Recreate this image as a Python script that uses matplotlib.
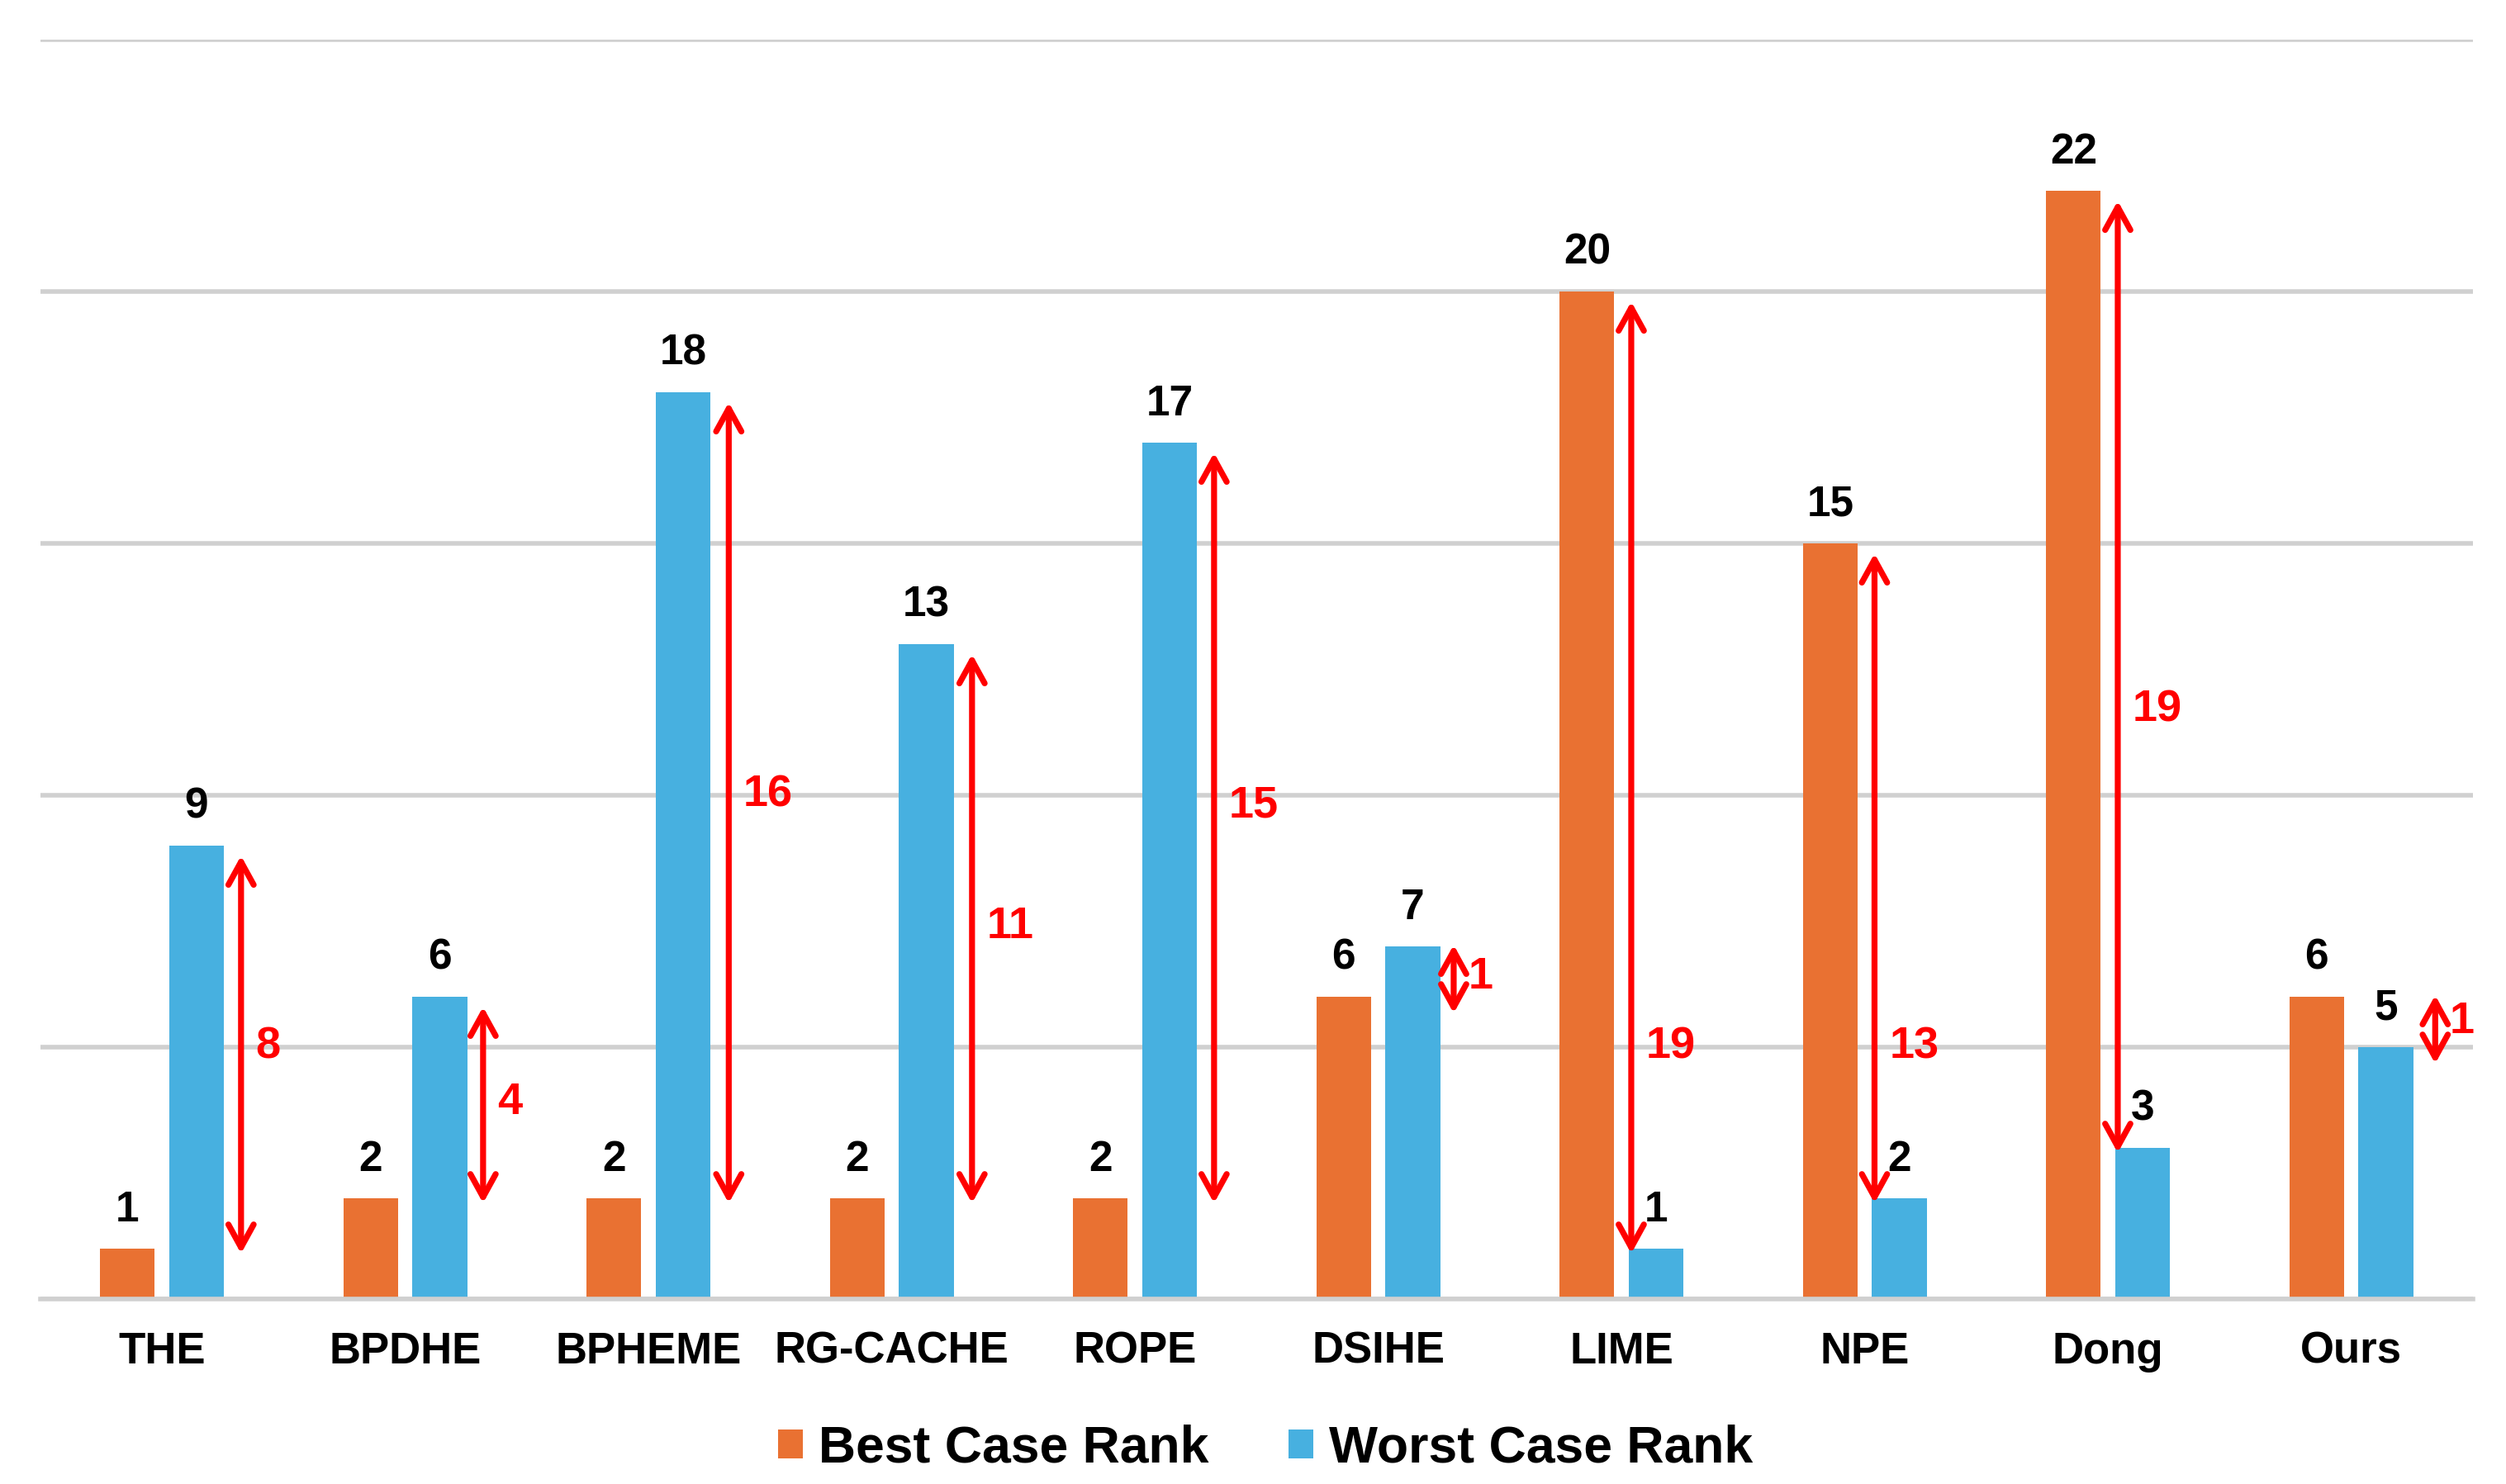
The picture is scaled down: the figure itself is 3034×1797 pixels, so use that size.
import matplotlib.pyplot as plt
import numpy as np

plt.rcParams['font.family'] = ['Liberation Sans', 'DejaVu Sans']
plt.rcParams['font.weight'] = 'bold'

# data
methods = ["THE", "BPDHE", "BPHEME", "RG-CACHE", "ROPE",
           "DSIHE", "LIME", "NPE", "Dong", "Ours"]
best_rank = [1, 2, 2, 2, 2, 6, 20, 15, 22, 6]
worst_rank = [9, 6, 18, 13, 17, 7, 1, 2, 3, 5]

# layout of the red gap arrows (x offset from category, label height)
arrow_dx = [0.325, 0.32, 0.33, 0.33, 0.325, 0.31, 0.04, 0.04, 0.04, 0.345]
gap_label_y = [5, 3.9, 10, 7.4, 9.8, 6.4, 5, 5, 11.7, 5.5]

orange = "#E97132"
blue = "#47B0E0"
grid_c = "#D0D0D0"

fig = plt.figure(figsize=(15.17, 8.985), dpi=200)
ax = fig.add_axes([0.0161, 0.1247, 0.9707, 0.8486])

x = np.arange(len(methods))
w = 0.225
off = 0.142
ax.bar(x - off, best_rank, w, color=orange, label="Best Case Rank", zorder=2)
ax.bar(x + off, worst_rank, w, color=blue, label="Worst Case Rank", zorder=2)

# value labels
for i in range(len(methods)):
    ax.annotate(str(best_rank[i]), (x[i] - off, best_rank[i]),
                xytext=(0, 12), textcoords="offset points",
                ha="center", va="baseline", fontsize=18.5, color="black")
    ax.annotate(str(worst_rank[i]), (x[i] + off, worst_rank[i]),
                xytext=(0, 12), textcoords="offset points",
                ha="center", va="baseline", fontsize=18.5, color="black")

# gap arrows
for i in range(len(methods)):
    hi = max(best_rank[i], worst_rank[i])
    lo = min(best_rank[i], worst_rank[i])
    y_top = hi - 0.2
    y_bot = lo - 0.1
    if y_top - y_bot < 1.35:
        mid = (hi + lo) / 2 - 0.15
        y_top, y_bot = mid + 0.68, mid - 0.68
    ax_x = x[i] + arrow_dx[i]
    ax.annotate("", xy=(ax_x, y_top), xytext=(ax_x, y_bot),
                arrowprops=dict(arrowstyle="<->,head_length=10,head_width=5.5",
                                mutation_scale=1, color="#FF0000", lw=2.6,
                                shrinkA=0, shrinkB=0),
                zorder=3)
    ax.text(ax_x + 0.06, gap_label_y[i], str(hi - lo), color="#FF0000",
            fontsize=19.5, ha="left", va="center", zorder=3)

ax.set_xlim(-0.5, len(methods) - 0.5)
ax.set_ylim(0, 25)
ax.set_yticks([0, 5, 10, 15, 20, 25])
ax.yaxis.grid(True, color=grid_c, lw=2.0)
ax.set_axisbelow(True)
ax.tick_params(axis="y", left=False, labelleft=False)
ax.set_xticks(x)
ax.set_xticklabels(methods, fontsize=19)
ax.tick_params(axis="x", length=0, pad=14)
for s in ["top", "left", "right"]:
    ax.spines[s].set_visible(False)
ax.spines["bottom"].set_color(grid_c)
ax.spines["bottom"].set_linewidth(2.0)

fig.legend(loc="center", bbox_to_anchor=(0.505, 0.024), ncol=2,
           frameon=False, fontsize=22.5, handlelength=0.48,
           handleheight=0.48, handletextpad=0.3, columnspacing=1.55)

fig.savefig("out.png", dpi=200)
